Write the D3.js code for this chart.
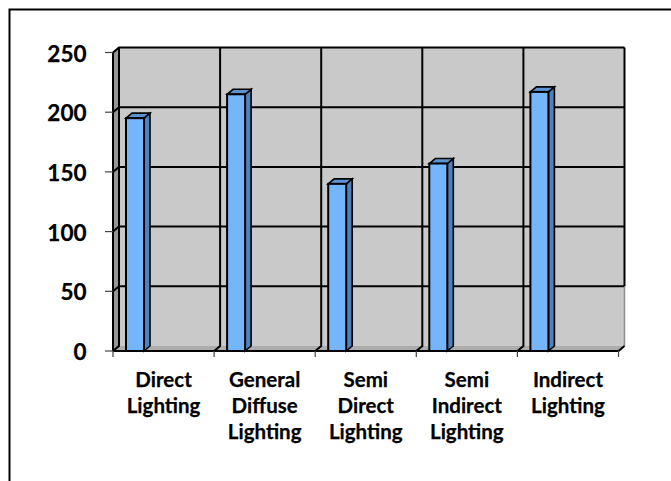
<!DOCTYPE html>
<meta charset="utf-8">
<style>
body { margin: 0; background: #fff; }
svg { display: block; }
text { font-family: Lato, sans-serif; font-weight: 700; fill: #000; stroke: #000; stroke-width: 0.25px; }
</style>
<svg class="chart" width="671" height="481"></svg>
<script src="https://cdn.jsdelivr.net/npm/d3@7"></script>
<script>
var categories = [["Direct", "Lighting"], ["General", "Diffuse", "Lighting"], ["Semi", "Direct", "Lighting"], ["Semi", "Indirect", "Lighting"], ["Indirect", "Lighting"]];
var values = [195, 215, 140, 157, 217];
var yTicks = [0, 50, 100, 150, 200, 250];

var chart = d3.select(".chart");

var left = 113, right = 618.5, bottom = 351, top_ = 52.5, depth = 6, depthY = 5;
var x = d3.scaleBand().domain(d3.range(categories.length)).range([left, right]);
var y = d3.scaleLinear().domain([0, 250]).range([bottom, top_]);

// outer frame, only left and top edges are in the picture
chart.append("path")
  .attr("d", "M9.5,481V9.5H671")
  .attr("fill", "none").attr("stroke", "#000").attr("stroke-width", 2);

// back wall
chart.append("rect")
  .attr("x", left + depth).attr("y", top_ - depthY)
  .attr("width", right - left).attr("height", bottom - top_)
  .attr("fill", "#c9c9c9");

// side wall
chart.append("path")
  .attr("d", d3.line()([[left, top_], [left + depth, top_ - depthY], [left + depth, bottom - depthY], [left, bottom]]) + "Z")
  .attr("fill", "#969696");

// floor
chart.append("path")
  .attr("d", d3.line()([[left, bottom], [left + depth, bottom - depthY], [right + depth, bottom - depthY], [right, bottom]]) + "Z")
  .attr("fill", "#adadad");

// horizontal gridlines
yTicks.slice(1).forEach(function(t) {
  chart.append("path")
    .attr("d", d3.line()([[left, y(t)], [left + depth, y(t) - depthY], [right + depth, y(t) - depthY]]))
    .attr("fill", "none").attr("stroke", "#000").attr("stroke-width", 2);
});

// vertical gridlines
d3.range(categories.length).forEach(function(i) {
  var px = left + i * x.step();
  chart.append("path")
    .attr("d", d3.line()([[px, bottom], [px + depth, bottom - depthY], [px + depth, top_ - depthY]]))
    .attr("fill", "none").attr("stroke", "#000").attr("stroke-width", 2);
});

// right edge of the wall fades out towards the floor
chart.append("line")
  .attr("x1", right + depth).attr("x2", right + depth)
  .attr("y1", y(50) - depthY).attr("y2", top_ - depthY)
  .attr("stroke", "#000").attr("stroke-width", 2);
chart.append("line")
  .attr("x1", right + depth).attr("x2", right + depth)
  .attr("y1", bottom - depthY).attr("y2", y(50) - depthY)
  .attr("stroke", "#8c8c8c").attr("stroke-width", 1.5);
chart.append("line")
  .attr("x1", right).attr("x2", right + depth)
  .attr("y1", bottom).attr("y2", bottom - depthY)
  .attr("stroke", "#000").attr("stroke-width", 2);

// axes
chart.append("line").attr("x1", left).attr("x2", left).attr("y1", top_).attr("y2", bottom)
  .attr("stroke", "#000").attr("stroke-width", 2);
chart.append("line").attr("x1", left).attr("x2", right).attr("y1", bottom).attr("y2", bottom)
  .attr("stroke", "#000").attr("stroke-width", 2);

// y ticks and labels
var yg = chart.selectAll(".ytick").data(yTicks).enter().append("g");
yg.append("line")
  .attr("x1", left - 8).attr("x2", left)
  .attr("y1", function(d) { return y(d); }).attr("y2", function(d) { return y(d); })
  .attr("stroke", "#444").attr("stroke-width", 1.2);
yg.append("text")
  .attr("x", 86.5).attr("y", function(d) { return y(d) + 9; })
  .attr("text-anchor", "end").style("font-size", "22.5px")
  .text(function(d) { return d; });

// x ticks
d3.range(categories.length + 1).forEach(function(i) {
  var px = left + i * x.step();
  chart.append("line").attr("x1", px).attr("x2", px).attr("y1", bottom).attr("y2", bottom + 6)
    .attr("stroke", "#444").attr("stroke-width", 1.2);
});

// bars
var barOffset = 13, barW = 18, bd = 6, bdY = 5;
var bars = chart.selectAll(".bar").data(values).enter().append("g");
bars.each(function(d, i) {
  var g = d3.select(this);
  var x0 = x(i) + barOffset, x1 = x0 + barW, yt = y(d);
  g.append("path")
    .attr("d", d3.line()([[x1, bottom], [x1 + bd, bottom - bdY], [x1 + bd, yt - bdY], [x1, yt]]) + "Z")
    .attr("fill", "#4f81bd").attr("stroke", "#000").attr("stroke-width", 1.6);
  g.append("path")
    .attr("d", d3.line()([[x0, yt], [x0 + bd, yt - bdY], [x1 + bd, yt - bdY], [x1, yt]]) + "Z")
    .attr("fill", "#5b93d3").attr("stroke", "#000").attr("stroke-width", 1.6);
  g.append("rect")
    .attr("x", x0).attr("y", yt).attr("width", barW).attr("height", bottom - yt)
    .attr("fill", "#75b5fb").attr("stroke", "#000").attr("stroke-width", 2);
});

// category labels
var labels = chart.selectAll(".cat").data(categories).enter().append("text")
  .attr("text-anchor", "middle").style("font-size", "20.5px");
labels.selectAll("tspan").data(function(d, i) { return d.map(function(s) { return { s: s, i: i }; }); })
  .enter().append("tspan")
  .attr("x", function(d) { return x(d.i) + x.bandwidth() / 2; })
  .attr("y", function(d, j) { return 387 + j * 26; })
  .text(function(d) { return d.s; });
</script>
